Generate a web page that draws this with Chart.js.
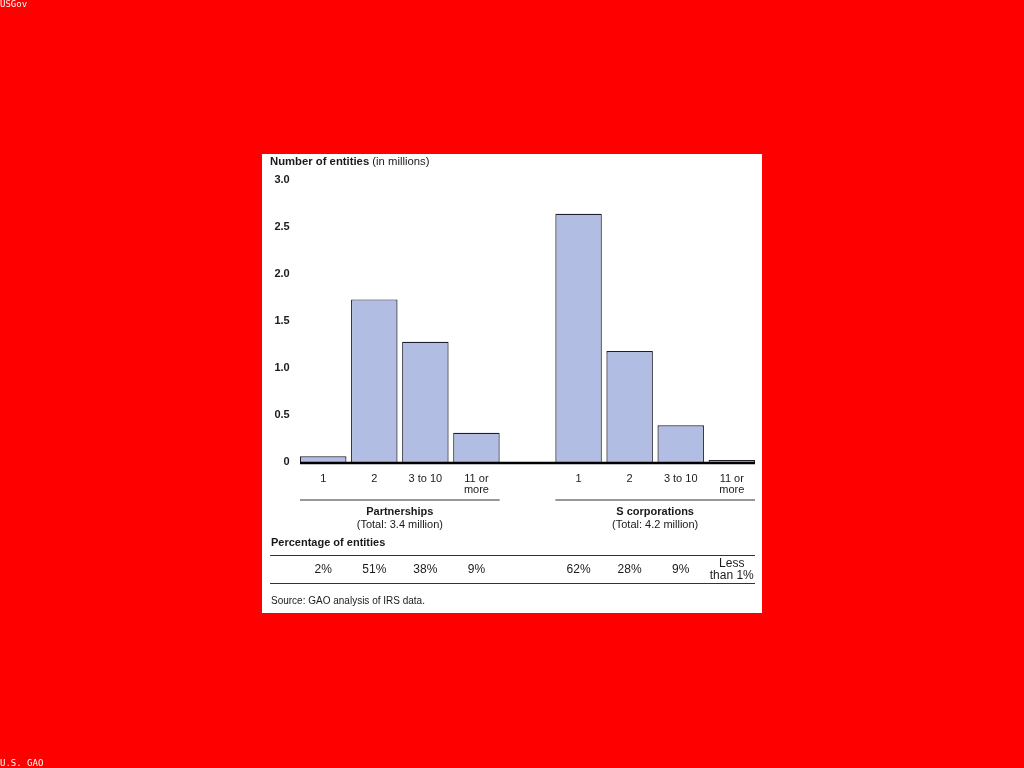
<!DOCTYPE html>
<html>
<head>
<meta charset="utf-8">
<script src="https://cdn.jsdelivr.net/npm/chart.js@4.4.1/dist/chart.umd.min.js"></script>
<style>
  html, body { margin: 0; padding: 0; background: #ff0000; }
  #wrap { width: 1024px; height: 768px; position: relative; }
  canvas { display: block; }
</style>
</head>
<body>
<div id="wrap"><canvas id="c" width="1024" height="768"></canvas></div>
<script>
// ---- Data ----
const partnershipCategories = ["1", "2", "3 to 10", ["11 or", "more"]];
const sCorpCategories = ["1", "2", "3 to 10", ["11 or", "more"]];
const partnershipValues = [0.06, 1.73, 1.28, 0.31];   // millions of entities
const sCorpValues = [2.64, 1.18, 0.39, 0.02];          // millions of entities
const partnershipPercents = [["2%"], ["51%"], ["38%"], ["9%"]];
const sCorpPercents = [["62%"], ["28%"], ["9%"], ["Less", "than 1%"]];
const groupNames = ["Partnerships", "S corporations"];
const groupTotals = ["(Total: 3.4 million)", "(Total: 4.2 million)"];
const yTicks = [0, 0.5, 1.0, 1.5, 2.0, 2.5, 3.0];
const titleBold = "Number of entities";
const titleNormal = " (in millions)";
const pctTitle = "Percentage of entities";
const sourceText = "Source: GAO analysis of IRS data.";

// Build the chart's category table (an empty slot separates the two groups)
const labels = [...partnershipCategories, "", ...sCorpCategories];
const values = [...partnershipValues, null, ...sCorpValues];
const percents = [...partnershipPercents, null, ...sCorpPercents];
const groups = [
  { name: groupNames[0], total: groupTotals[0], from: 0, to: partnershipValues.length - 1 },
  { name: groupNames[1], total: groupTotals[1], from: partnershipValues.length + 1, to: labels.length - 1 }
];

const FONT = '"Liberation Sans", Arial, Helvetica, sans-serif';
const TXT = '#1a1a1a';

const decor = {
  id: 'decor',
  beforeDraw(chart) {
    const ctx = chart.ctx;
    ctx.save();
    ctx.fillStyle = '#ff0000';
    ctx.fillRect(0, 0, chart.width, chart.height);
    ctx.fillStyle = '#ffffff';
    ctx.fillRect(262, 154, 500, 459);
    // corner marks
    ctx.fillStyle = '#ffffff';
    ctx.font = '9px "DejaVu Sans Mono", monospace';
    ctx.textBaseline = 'top';
    ctx.textAlign = 'left';
    ctx.fillText('USGov', 0, 0);
    ctx.textBaseline = 'bottom';
    ctx.fillText('U.S. GAO', 0, 768);
    // title
    ctx.fillStyle = TXT;
    ctx.textBaseline = 'middle';
    ctx.font = 'bold 11.3px ' + FONT;
    ctx.fillText(titleBold, 270, 162);
    const w = ctx.measureText(titleBold).width;
    ctx.font = '11.3px ' + FONT;
    ctx.fillText(titleNormal, 270 + w, 162);
    ctx.restore();
  },
  afterDatasetsDraw(chart) {
    const ctx = chart.ctx;
    const xs = chart.scales.x, ys = chart.scales.y;
    const meta = chart.getDatasetMeta(0);
    const bw = meta.data[0].width;
    const left = i => xs.getPixelForValue(i) - bw / 2;
    const right = i => xs.getPixelForValue(i) + bw / 2;
    const cx = i => xs.getPixelForValue(i);
    const y0 = ys.getPixelForValue(0);
    ctx.save();
    // baseline
    ctx.strokeStyle = '#000';
    ctx.lineWidth = 2.5;
    ctx.beginPath();
    ctx.moveTo(left(0), y0 + 1);
    ctx.lineTo(right(labels.length - 1), y0 + 1);
    ctx.stroke();
    // group lines and names
    ctx.lineWidth = 1.2;
    ctx.strokeStyle = '#333';
    ctx.fillStyle = TXT;
    ctx.textAlign = 'center';
    ctx.textBaseline = 'middle';
    groups.forEach(g => {
      ctx.beginPath();
      ctx.moveTo(left(g.from), 500);
      ctx.lineTo(right(g.to), 500);
      ctx.stroke();
      const mid = (left(g.from) + right(g.to)) / 2;
      ctx.font = 'bold 11px ' + FONT;
      ctx.fillText(g.name, mid, 512);
      ctx.font = '11px ' + FONT;
      ctx.fillText(g.total, mid, 525);
    });
    // percentage table
    ctx.textAlign = 'left';
    ctx.font = 'bold 11px ' + FONT;
    ctx.fillText(pctTitle, 271, 543);
    ctx.beginPath();
    ctx.moveTo(270, 555.5); ctx.lineTo(right(labels.length - 1), 555.5);
    ctx.moveTo(270, 583.5); ctx.lineTo(right(labels.length - 1), 583.5);
    ctx.stroke();
    ctx.textAlign = 'center';
    ctx.font = '12px ' + FONT;
    percents.forEach((p, i) => {
      if (!p) return;
      if (p.length === 1) ctx.fillText(p[0], cx(i), 570);
      else { ctx.fillText(p[0], cx(i), 564); ctx.fillText(p[1], cx(i), 576); }
    });
    // source
    ctx.textAlign = 'left';
    ctx.font = '10px ' + FONT;
    ctx.fillText(sourceText, 271, 601);
    ctx.restore();
  }
};

new Chart(document.getElementById('c'), {
  type: 'bar',
  data: {
    labels: labels,
    datasets: [{
      data: values,
      backgroundColor: '#b1bde3',
      borderColor: '#1c1c2a',
      borderWidth: 1.2,
      barPercentage: 0.91,
      categoryPercentage: 1.0
    }]
  },
  options: {
    responsive: false,
    animation: false,
    devicePixelRatio: 1,
    layout: { padding: { left: 262.7, right: 266.7, top: 180, bottom: 256 } },
    plugins: { legend: { display: false }, tooltip: { enabled: false }, title: { display: false } },
    scales: {
      x: {
        offset: true,
        grid: { display: false, drawTicks: false },
        border: { display: false },
        ticks: {
          color: TXT,
          font: { family: FONT, size: 11, lineHeight: 1.0 },
          padding: 11,
          maxRotation: 0,
          autoSkip: false
        },
        afterFit: s => { s.height = 50; }
      },
      y: {
        min: 0, max: 3.0,
        grid: { display: false, drawTicks: false },
        border: { display: false },
        afterBuildTicks: s => { s.ticks = yTicks.map(v => ({ value: v })); },
        ticks: {
          color: TXT,
          font: { family: FONT, size: 11, weight: 'bold' },
          padding: 8,
          callback: v => v === 0 ? '0' : Number(v).toFixed(1)
        },
        afterFit: s => { s.width = 35; }
      }
    }
  },
  plugins: [decor]
});
</script>
</body>
</html>
